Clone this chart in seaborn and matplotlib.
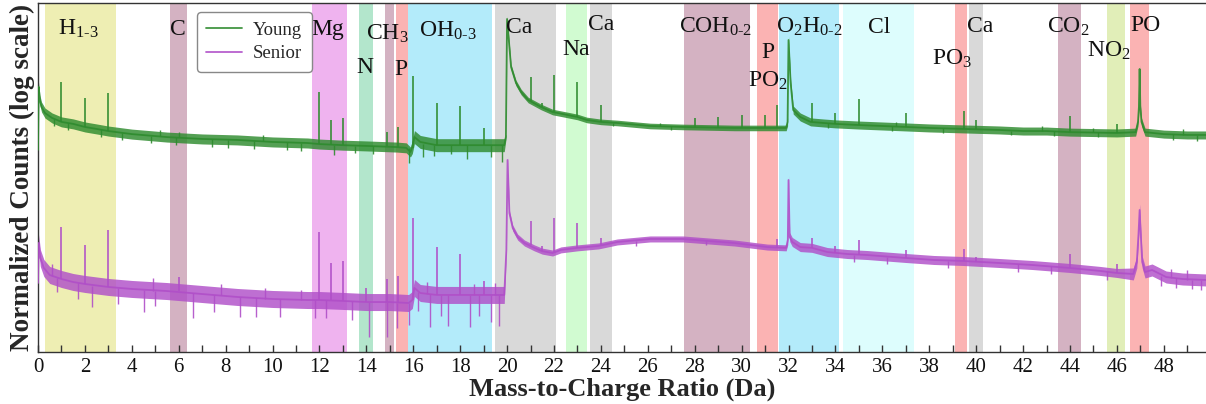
import numpy as np
import pandas as pd
import matplotlib
matplotlib.use("Agg")
import matplotlib.pyplot as plt
import seaborn as sns
from matplotlib.ticker import MultipleLocator, NullLocator
from matplotlib.transforms import blended_transform_factory

# ---- spectra: smooth baseline of each sample (m/z in Da, normalized counts) ----
young_mz = [0.0, 0.03, 0.08, 0.15, 0.3, 0.6, 1.0, 1.5, 2.0, 2.5, 3.0, 4.0, 5.5, 7.0,
            8.5, 10.0, 11.5, 12.0, 13.0, 14.0, 15.3, 15.7, 15.88, 15.96, 16.05, 16.3,
            17.0, 19.0, 19.88, 19.95, 20.0, 20.17, 20.38, 20.6, 20.9, 21.45, 21.94,
            22.6, 23.0, 23.4, 24.0, 24.7, 26.1, 27.5, 29.7, 31.9, 31.96, 32.0, 32.09,
            32.2, 32.5, 32.94, 33.5, 34.0, 35.0, 36.0, 37.0, 38.0, 39.5, 41.0, 42.0,
            43.0, 44.0, 46.0, 46.8, 46.9, 46.94, 46.97, 47.0, 47.05, 47.2, 48.0, 49.0,
            49.8]
young_counts = [105, 447, 331, 282, 245, 219, 200, 191, 178, 170, 162, 151, 141, 135,
                132, 126, 123, 120, 117, 115, 112, 110, 100, 112, 141, 126,
                117, 117, 117, 141, 2138, 708, 490, 398, 331, 282, 251,
                234, 224, 209, 200, 195, 182, 178, 174, 174, 200, 1318, 490,
                263, 224, 200, 195, 191, 186, 182, 178, 174, 170, 166, 162,
                162, 158, 155, 158, 200, 282, 676, 282, 200, 158, 151, 148,
                148]

senior_mz = [0.0, 0.03, 0.1, 0.25, 0.5, 1.0, 1.5, 2.0, 3.0, 4.0, 5.5, 7.0, 8.5, 10.0,
             11.5, 12.0, 13.0, 14.0, 15.0, 15.8, 15.96, 16.05, 16.3, 17.0, 19.0, 19.88,
             19.97, 20.02, 20.1, 20.24, 20.45, 20.74, 21.16, 21.5, 21.94, 22.3, 23.0,
             23.9, 24.7, 26.1, 27.5, 29.7, 31.1, 31.9, 31.97, 32.0, 32.05, 32.16, 32.5,
             33.0, 33.65, 34.5, 35.35, 37.0, 38.2, 39.45, 41.0, 42.4, 44.0, 45.3, 46.0,
             46.7, 46.85, 46.92, 46.97, 47.02, 47.08, 47.2, 47.5, 48.1, 48.8, 49.8]
senior_counts = [4.9, 12.3, 8.71, 6.92, 5.89, 5.37, 5.01, 4.79, 4.47, 4.27, 4.07, 3.8,
                 3.55, 3.39, 3.31, 3.31, 3.24, 3.16, 3.16, 3.09, 3.31, 4.37, 3.89, 3.72,
                 3.72, 3.72, 10.5, 83.2, 24.5, 17.4, 14.1, 12.3, 11.0, 10.2, 9.77, 10.5,
                 11.0, 11.5, 12.6, 13.5, 13.5, 12.3, 11.2, 11.0, 13.2, 52.5, 14.1, 12.6,
                 11.2, 11.0, 10.0, 9.55, 9.33, 8.71, 8.32, 8.13, 7.76, 7.41, 6.92, 6.46,
                 6.17, 6.03, 7.94, 14.8, 26.3, 14.8, 7.94, 6.31, 6.61, 5.62, 5.37, 5.25]

# ---- narrow isotope spikes: position, counts at the foot, counts at the tip ----
young_spike_mz = [1.0, 2.0, 3.0, 12.0, 12.5, 13.0, 14.9, 15.35, 16.0, 17.0, 18.0, 19.0,
                  21.0, 21.5, 22.0, 23.0, 24.0, 28.0, 29.0, 30.0, 31.0, 31.5, 33.0,
                  34.0, 35.0, 37.0, 39.5, 40.0, 44.0, 46.0]
young_spike_foot = [200, 178, 162, 120, 117, 117, 115, 112, 110, 117, 117, 117,
                    320, 280, 251, 224, 200, 178, 174, 174, 174, 174, 200,
                    191, 186, 178, 170, 170, 158, 155]
young_spike_tip = [501, 347, 389, 398, 209, 219, 158, 178, 575, 309, 288, 174,
                   562, 309, 589, 501, 295, 219, 224, 234, 234, 295, 309,
                   245, 339, 245, 257, 209, 229, 191]

senior_spike_mz = [1.0, 2.0, 3.0, 6.0, 12.0, 12.5, 13.0, 14.0, 14.9, 15.35, 16.0, 17.0,
                   18.0, 19.0, 21.0, 21.5, 22.0, 23.0, 24.0, 31.5, 33.0, 34.0, 35.0,
                   37.0, 39.5, 40.0, 44.0, 46.0]
senior_spike_foot = [5.37, 4.79, 4.47, 4.07, 3.31, 3.3, 3.24, 3.16, 3.16, 3.1, 3.3,
                     3.72, 3.72, 3.72, 11.7, 10.2, 9.77, 11.0, 11.7, 11.0, 11.0, 9.7,
                     9.4, 8.7, 8.1, 8.0, 6.9, 6.2]
senior_spike_tip = [17.8, 11.7, 16.6, 5.62, 15.8, 7.76, 8.13, 4.37, 5.37, 5.75, 21.9,
                    11.2, 9.55, 5.13, 20.4, 11.5, 21.9, 19.5, 13.8, 13.5, 13.8, 11.5,
                    13.2, 10.5, 10.7, 8.91, 9.55, 7.59]

# ---- single-bin noise excursions: position, low and high counts ----
young_jitter_mz = [0.7, 1.3, 2.7, 3.6, 4.8, 5.2, 5.9, 6.0, 7.4, 8.1, 9.2, 9.6, 10.6,
                   11.2, 12.6, 13.5, 14.3, 15.8, 16.4, 16.9, 17.6, 18.3, 19.3, 19.8,
                   24.5, 26.5, 27.0, 33.7, 36.4, 36.6, 38.6, 41.5, 42.8, 43.3, 45.0,
                   45.2, 48.4, 48.8, 49.4]
young_jitter_low = [180, 165, 142, 132, 124, 143, 118, 140, 113, 110, 108, 128, 104,
                    103, 93, 97, 95, 78, 89, 92, 95, 86, 90, 79,
                    180, 181, 165, 172, 162, 180, 155, 148, 162, 143, 158,
                    140, 132, 149, 130]
young_jitter_high = [215, 195, 168, 156, 146, 165, 140, 160, 134, 133, 129, 148, 125,
                     124, 117, 116, 115, 110, 120, 117, 117, 117, 117, 117,
                     196, 195, 180, 193, 181, 200, 173, 164, 180, 161, 175,
                     157, 150, 168, 148]

senior_jitter_mz = [0.6, 0.8, 1.7, 2.3, 3.4, 4.5, 4.9, 5.0, 6.6, 7.5, 7.8, 8.6, 9.3,
                    9.7, 10.3, 11.2, 11.8, 12.3, 13.4, 14.1, 14.9, 15.3, 15.8, 16.2,
                    16.6, 16.7, 17.2, 17.5, 18.4, 18.6, 18.8, 19.3, 19.5, 19.65, 25.5,
                    28.5, 34.8, 36.2, 38.8, 41.8, 43.2, 45.6, 47.9, 48.3, 48.5, 49.0,
                    49.2, 49.6]
senior_jitter_low = [5.8, 4.0, 3.4, 2.82, 3.0, 2.51, 4.1, 2.9, 2.19, 2.5, 3.7, 2.24,
                     2.24, 3.4, 2.24, 3.3, 2.19, 2.2, 2.1, 1.41, 1.41, 1.74, 1.86, 2.6,
                     3.8, 1.78, 2.3, 1.82, 1.78, 3.72, 2.3, 2.0, 3.72, 1.82, 11.5,
                     11.7, 8.0, 7.6, 6.9, 6.3, 6.0, 5.3, 4.6, 5.5, 4.4, 5.3,
                     4.3, 4.2]
senior_jitter_high = [7.5, 5.5, 4.9, 4.6, 4.4, 4.2, 5.5, 4.1, 3.9, 3.7, 4.8, 3.55,
                      3.45, 4.4, 3.35, 4.2, 3.3, 3.3, 3.2, 3.16, 3.16, 3.1, 3.1, 4.0,
                      5.0, 3.8, 3.72, 3.72, 3.72, 4.8, 3.72, 3.72, 4.9, 3.72, 13.0,
                      13.2, 9.4, 9.0, 8.2, 7.6, 7.2, 6.4, 5.7, 6.8, 5.5, 6.6,
                      5.3, 5.3]

# ---- noise spread (half-width in decades) over m/z ranges ----
young_noise_edges = [0, 15.9, 19.93, 31.95, 50]
young_noise_halfwidth = [0.05, 0.065, 0.028, 0.04]
senior_noise_edges = [0, 19.93, 31.95, 46.5, 50]
senior_noise_halfwidth = [0.085, 0.03, 0.045, 0.06]

# ---- ion assignment windows ----
window_lo = [0.30, 5.61, 11.69, 13.68, 14.79, 15.26, 15.78, 19.48, 22.51, 23.54, 27.54,
             30.65, 31.59, 34.34, 39.09, 39.68, 43.48, 45.57, 46.55]
window_hi = [3.31, 6.34, 13.17, 14.27, 15.19, 15.77, 19.35, 22.07, 23.39, 24.47, 30.34,
             31.56, 34.14, 37.33, 39.63, 40.28, 44.46, 46.36, 47.39]
window_colors = ["#eeeeb3", "#d4b2c2", "#efb3ef", "#b3e6cc", "#d4b2c2", "#fbb3b3",
                 "#b3ebfa", "#d9d9d9", "#d1fbd1", "#d9d9d9", "#d4b2c2", "#fbb3b3",
                 "#b3ebfa", "#ddfdfd", "#fbb3b3", "#d9d9d9", "#d4b2c2", "#e1eeb8",
                 "#fbb3b3"]

ion_labels = [r"H$_\mathregular{1\text{-}3}$", "C", "Mg", r"CH$_\mathregular{3}$", "N", "P",
              r"OH$_\mathregular{0\text{-}3}$", "Ca", "Na", "Ca",
              r"COH$_\mathregular{0\text{-}2}$", "P", r"PO$_\mathregular{2}$",
              r"O$_\mathregular{2}$H$_\mathregular{0\text{-}2}$", "Cl",
              r"PO$_\mathregular{3}$", "Ca", r"CO$_\mathregular{2}$",
              r"NO$_\mathregular{2}$", "PO"]
ion_label_x = [1.74, 5.98, 12.36, 14.91, 13.93, 15.47, 17.49, 20.53, 22.96, 23.99,
               28.89, 31.13, 31.13, 32.89, 35.86, 38.96, 40.19, 43.94, 45.67, 47.22]
ion_label_y = [0.908, 0.908, 0.908, 0.894, 0.799, 0.794, 0.903, 0.914, 0.851, 0.923,
               0.914, 0.842, 0.759, 0.914, 0.914, 0.822, 0.917, 0.914, 0.845, 0.920]

# ---- appearance ----
SERIF = ["Liberation Serif", "DejaVu Serif"]
sns.set_theme(style="ticks")
plt.rcParams["font.family"] = SERIF
plt.rcParams["mathtext.fontset"] = "custom"
plt.rcParams["mathtext.rm"] = "Liberation Serif"
plt.rcParams["mathtext.it"] = "Liberation Serif:italic"
plt.rcParams["mathtext.bf"] = "Liberation Serif:bold"

palette = {"Young": "#2e8b2e", "Senior": "#b04fc8"}

fig = plt.figure(figsize=(12.06, 4.04), dpi=100)
ax = fig.add_axes([0.0315, 0.1287, 0.9685, 0.8639])

for lo, hi, c in zip(window_lo, window_hi, window_colors):
    ax.axvspan(lo, hi, color=c, lw=0, zorder=0)

spectra = pd.concat([
    pd.DataFrame({"mz": young_mz, "counts": young_counts, "sample": "Young"}),
    pd.DataFrame({"mz": senior_mz, "counts": senior_counts, "sample": "Senior"}),
])

sns.lineplot(data=spectra, x="mz", y="counts", hue="sample", palette=palette,
             estimator=None, sort=False, lw=1.3, alpha=0.9, ax=ax, zorder=3)


def noise_band(mz, counts, edges, halfwidth, color):
    mz = np.asarray(mz)
    counts = np.asarray(counts, dtype=float)
    idx = np.clip(np.searchsorted(edges, mz, side="right") - 1, 0, len(halfwidth) - 1)
    w = np.asarray(halfwidth)[idx]
    ax.fill_between(mz, counts * 10 ** (-w), counts * 10 ** w, color=color,
                    alpha=0.82, lw=0, zorder=2)


noise_band(young_mz, young_counts, young_noise_edges, young_noise_halfwidth,
           palette["Young"])
noise_band(senior_mz, senior_counts, senior_noise_edges, senior_noise_halfwidth,
           palette["Senior"])

ax.vlines(young_spike_mz, young_spike_foot, young_spike_tip, color=palette["Young"],
          lw=1.2, alpha=0.95, zorder=3)
ax.vlines(senior_spike_mz, senior_spike_foot, senior_spike_tip, color=palette["Senior"],
          lw=1.2, alpha=0.95, zorder=3)
ax.vlines(young_jitter_mz, young_jitter_low, young_jitter_high, color=palette["Young"],
          lw=1.0, alpha=0.9, zorder=3)
ax.vlines(senior_jitter_mz, senior_jitter_low, senior_jitter_high, color=palette["Senior"],
          lw=1.0, alpha=0.9, zorder=3)

trans = blended_transform_factory(ax.transData, ax.transAxes)
for txt, x, y in zip(ion_labels, ion_label_x, ion_label_y):
    ax.text(x, y, txt, transform=trans, ha="center", va="baseline", fontsize=17,
            family=SERIF, color="#111111", zorder=5)

ax.set_yscale("log")
ax.set_ylim(1, 10 ** 3.49)
ax.set_xlim(0, 49.8)
ax.yaxis.set_major_locator(NullLocator())
ax.yaxis.set_minor_locator(NullLocator())
ax.xaxis.set_major_locator(MultipleLocator(2))
ax.xaxis.set_minor_locator(MultipleLocator(1))
ax.tick_params(axis="x", which="both", direction="in", length=5, width=1,
               labelsize=15, pad=4, color="#333333", labelcolor="#111111")
for side in ["left", "bottom", "top"]:
    ax.spines[side].set_visible(True)
    ax.spines[side].set_color("#333333")
    ax.spines[side].set_linewidth(1.0)
ax.spines["right"].set_visible(False)

ax.set_xlabel("Mass-to-Charge Ratio (Da)", fontsize=19, fontweight="bold", labelpad=1,
              family=SERIF)
ax.set_ylabel("Normalized Counts (log scale)", fontsize=19.5, fontweight="bold",
              labelpad=2, family=SERIF)

handles, labels = ax.get_legend_handles_labels()
ax.legend(handles, labels, loc="upper left", bbox_to_anchor=(0.136, 0.974),
          borderaxespad=0, prop={"family": SERIF, "size": 13.5}, frameon=True,
          fancybox=True, edgecolor="#888888", framealpha=1, handlelength=1.9,
          handletextpad=0.6, borderpad=0.5, labelspacing=0.35)

fig.savefig("out.png", dpi=100)
